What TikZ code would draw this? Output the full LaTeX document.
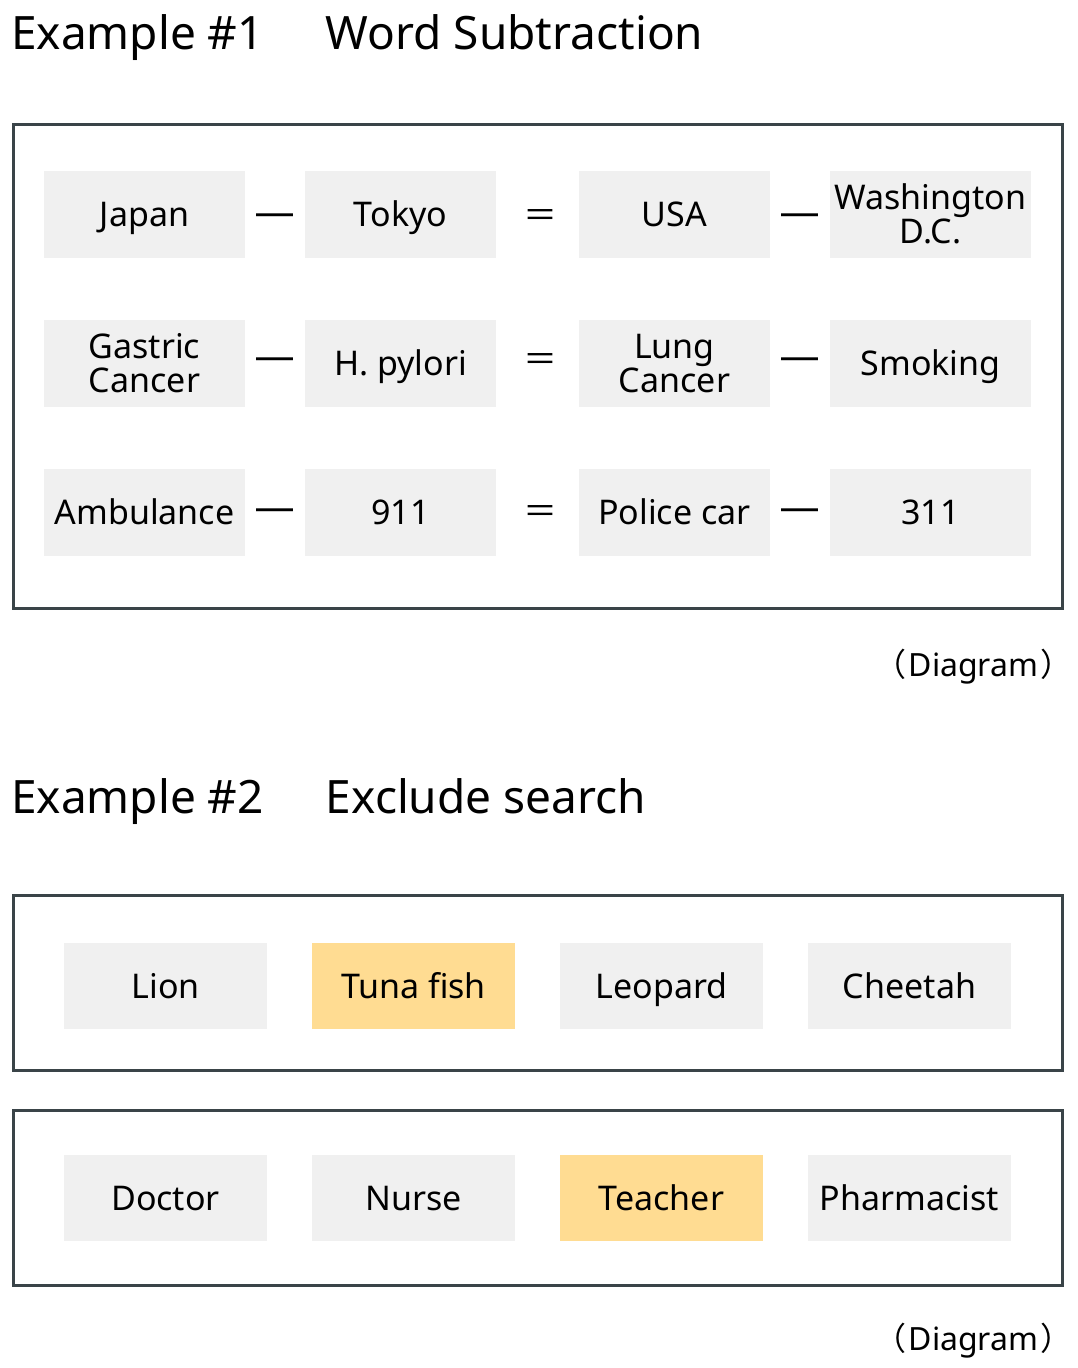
\documentclass[tikz,border=0pt]{standalone}
\usepackage{fontspec}
\setmainfont{Noto Sans}
\newfontfamily\cjk{Noto Sans CJK JP}
\newfontfamily\dejavu{DejaVu Sans}
\definecolor{cellgray}{HTML}{F0F0F0}
\definecolor{cellyellow}{HTML}{FFDC92}
\definecolor{frame}{HTML}{3A4448}
\begin{document}
\begin{tikzpicture}[x=1pt,y=-1pt,
  cell/.style={fill=cellgray,draw=none,minimum height=87pt,inner sep=0pt,align=center,
    font=\fontsize{34}{34}\selectfont,text height=24.3pt,text depth=0pt},
  two/.style={text height=58.3pt},
  wcell/.style={cell,minimum width=201pt},
  ncell/.style={cell,minimum width=191pt},
  xcell/.style={cell,minimum width=203pt,minimum height=86pt},
  hl/.style={fill=cellyellow},
  minus/.style={inner sep=0pt,font=\dejavu\fontsize{41}{41}\selectfont},
  eq/.style={inner sep=0pt,font=\cjk\fontsize{34}{34}\selectfont},
  outer/.style={draw=frame,line width=3pt,fill=none},
  title/.style={anchor=base west,inner sep=0pt,font=\fontsize{46}{46}\selectfont},
  caption/.style={anchor=base,inner sep=0pt,font=\fontsize{32}{32}\selectfont}]
\useasboundingbox (0,0) rectangle (1078,1368);

% Example 1
\node[title] (t1) at (11,49) {Example \#1\hspace{62pt}Word Subtraction};
\draw[outer] (13,124) rectangle (1062,608);

\node[wcell] (a1) at (144.5,214.5) {Japan};
\node[ncell] (b1) at (400.5,214.5) {Tokyo};
\node[ncell] (c1) at (674.5,214.5) {USA};
\node[wcell,two] (d1) at (930.5,214.5) {Washington\\D.C.};
\node[minus] (m11) at (274.5,220) {—};
\node[eq] (e1) at (540,219) {＝};
\node[minus] (m12) at (800,220) {—};

\node[wcell,two] (a2) at (144.5,363.5) {Gastric\\Cancer};
\node[ncell] (b2) at (400.5,363.5) {H. pylori};
\node[ncell,two] (c2) at (674.5,363.5) {Lung\\Cancer};
\node[wcell] (d2) at (930.5,363.5) {Smoking};
\node[minus] (m21) at (274.5,364) {—};
\node[eq] (e2) at (540,363) {＝};
\node[minus] (m22) at (800,364) {—};

\node[wcell] (a3) at (144.5,512.5) {Ambulance};
\node[ncell] (b3) at (400.5,512.5) {911};
\node[ncell] (c3) at (674.5,512.5) {Police car};
\node[wcell] (d3) at (930.5,512.5) {311};
\node[minus] (m31) at (274.5,515) {—};
\node[eq] (e3) at (540,514) {＝};
\node[minus] (m32) at (800,515) {—};

\node[caption] (cap1) at (973.5,676) {{\cjk （}\hspace{2pt}Diagram\hspace{2pt}{\cjk ）}};

% Example 2
\node[title] (t2) at (11,813) {Example \#2\hspace{62pt}Exclude search};
\draw[outer] (13,895) rectangle (1062,1070);
\node[xcell] (p1) at (165.5,986) {Lion};
\node[xcell,hl] (p2) at (413.5,986) {Tuna fish};
\node[xcell] (p3) at (661.5,986) {Leopard};
\node[xcell] (p4) at (909.5,986) {Cheetah};

\draw[outer] (13,1110) rectangle (1062,1285);
\node[xcell] (q1) at (165.5,1198) {Doctor};
\node[xcell] (q2) at (413.5,1198) {Nurse};
\node[xcell,hl] (q3) at (661.5,1198) {Teacher};
\node[xcell] (q4) at (909.5,1198) {Pharmacist};

\node[caption] (cap2) at (973.5,1350) {{\cjk （}\hspace{2pt}Diagram\hspace{2pt}{\cjk ）}};
\end{tikzpicture}
\end{document}
